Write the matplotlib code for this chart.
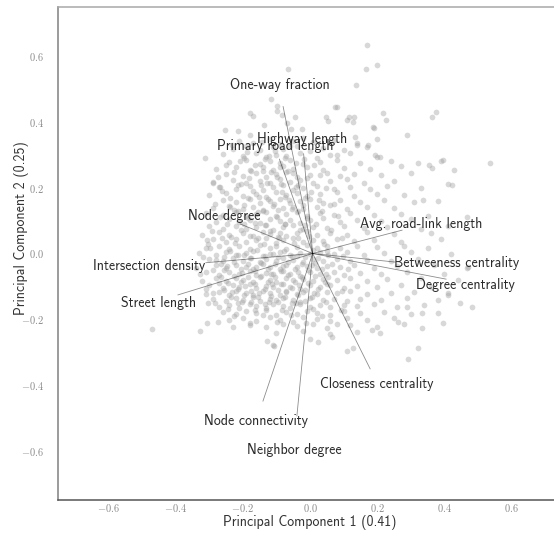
import matplotlib
matplotlib.use("Agg")
import matplotlib.pyplot as plt

plt.rcParams["mathtext.fontset"] = "cm"

# ---------------- data ----------------
feature_names = [
    "One-way fraction", "Highway length", "Primary road length", "Node degree",
    "Avg. road-link length", "Intersection density", "Street length",
    "Betweeness centrality", "Degree centrality", "Closeness centrality",
    "Node connectivity", "Neighbor degree",
]
loading_pc1 = [-0.080, -0.019, -0.091, -0.208, 0.274, -0.310, -0.393,
               0.253, 0.405, 0.179, -0.140, -0.039]
loading_pc2 = [0.447, 0.303, 0.287, 0.090, 0.071, -0.028, -0.126,
               -0.026, -0.078, -0.351, -0.449, -0.494]
label_pc1 = [-0.089, -0.024, -0.103, -0.254, 0.332, -0.480, -0.450,
             0.435, 0.464, 0.200, -0.160, -0.048]
label_pc2 = [0.513, 0.347, 0.327, 0.114, 0.090, -0.038, -0.150,
             -0.029, -0.096, -0.398, -0.509, -0.598]
origin_pc1 = 0.008
origin_pc2 = 0.0

tick_values = [-0.6, -0.4, -0.2, 0.0, 0.2, 0.4, 0.6]
tick_labels = [r"$-0.6$", r"$-0.4$", r"$-0.2$", r"$0.0$", r"$0.2$", r"$0.4$", r"$0.6$"]
xlabel_text = "Principal Component 1 (0.41)"
ylabel_text = "Principal Component 2 (0.25)"

scores = [
    # sparse outer points
    (0.17, 0.635), (0.168, 0.56), (0.198, 0.575), (0.136, 0.512), (-0.065, 0.56),
    (-0.117, 0.469), (-0.097, 0.45), (-0.099, 0.434), (-0.18, 0.428), (-0.17, 0.418),
    (0.075, 0.445), (0.048, 0.414), (0.053, 0.404), (0.111, 0.406), (0.132, 0.416),
    (0.129, 0.401), (0.19, 0.381), (0.198, 0.347), (-0.253, 0.376), (-0.213, 0.373),
    (-0.137, 0.391), (-0.083, 0.421), (-0.045, 0.416), (-0.069, 0.398), (-0.023, 0.378),
    (-0.057, 0.378), (-0.179, 0.36), (0.139, 0.33), (0.173, 0.33), (0.193, 0.30),
    (0.079, 0.30), (-0.313, 0.29), (0.536, 0.275), (0.39, 0.28), (0.354, 0.27),
    (0.43, 0.255), (0.41, 0.21), (0.466, 0.112), (-0.288, 0.214), (-0.268, 0.203),
    (-0.238, 0.142), (-0.307, 0.041), (-0.298, 0.016), (-0.471, -0.23), (-0.327, -0.236),
    (-0.307, -0.212), (-0.273, -0.207), (-0.228, -0.223), (-0.129, -0.266), (-0.109, -0.278),
    (-0.303, -0.152), (-0.288, -0.121), (0.466, -0.045), (0.446, -0.15), (0.481, -0.164),
    (0.412, -0.126), (0.397, -0.212), (0.332, -0.228), (0.322, -0.288), (0.291, -0.322),
    (0.129, -0.288), (0.111, -0.296), (0.065, -0.253), (0.025, -0.268), (0.0, -0.261),
    (-0.107, -0.281), (0.184, -0.233), (0.208, -0.241), (0.263, -0.207), (0.288, -0.162),
    (0.332, -0.18), (0.382, -0.182),
    (0.079, 0.446), (0.116, 0.415), (0.217, 0.427), (0.225, 0.406), (0.362, 0.416),
    (0.374, 0.431), (0.188, 0.386), (0.134, 0.355), (0.395, 0.284), (0.288, 0.36),
    (0.321, 0.275), (0.362, 0.26), (0.422, 0.208), (0.336, 0.163), (0.208, 0.294),
    # main cloud
    (-0.21, 0.343), (-0.17, 0.336), (-0.12, 0.347), (-0.09, 0.333), (-0.05, 0.341), (-0.02, 0.35), (0.01, 0.338), (0.07, 0.344), (0.14, 0.335),
    (-0.23, 0.318), (-0.19, 0.326), (-0.15, 0.314), (-0.11, 0.323), (-0.08, 0.317), (-0.04, 0.328), (0.0, 0.312), (0.04, 0.322), (0.1, 0.316), (0.17, 0.325),
    (-0.26, 0.302), (-0.2, 0.296), (-0.16, 0.305), (-0.13, 0.293), (-0.1, 0.301), (-0.07, 0.297), (-0.03, 0.306), (0.02, 0.292), (0.06, 0.3), (0.12, 0.307), (0.2, 0.294),
    (-0.24, 0.278), (-0.19, 0.284), (-0.15, 0.273), (-0.12, 0.281), (-0.09, 0.276), (-0.06, 0.286), (-0.02, 0.272), (0.03, 0.279), (0.08, 0.285), (0.15, 0.274), (0.24, 0.281),
    (-0.28, 0.257), (-0.22, 0.264), (-0.18, 0.255), (-0.14, 0.262), (-0.11, 0.253), (-0.08, 0.266), (-0.05, 0.258), (-0.01, 0.263), (0.04, 0.254), (0.1, 0.261), (0.18, 0.256), (0.27, 0.265),
    (-0.25, 0.243), (-0.2, 0.236), (-0.16, 0.245), (-0.13, 0.234), (-0.1, 0.241), (-0.07, 0.247), (-0.04, 0.233), (0.0, 0.24), (0.05, 0.246), (0.09, 0.235), (0.13, 0.242), (0.21, 0.238), (0.3, 0.244),
    (-0.29, 0.217), (-0.23, 0.224), (-0.19, 0.215), (-0.15, 0.222), (-0.12, 0.213), (-0.09, 0.226), (-0.06, 0.218), (-0.03, 0.223), (0.01, 0.214), (0.06, 0.221), (0.11, 0.227), (0.16, 0.216), (0.25, 0.222),
    (-0.27, 0.203), (-0.22, 0.196), (-0.18, 0.205), (-0.14, 0.194), (-0.11, 0.201), (-0.08, 0.207), (-0.05, 0.193), (-0.02, 0.2), (0.02, 0.206), (0.07, 0.195), (0.12, 0.202), (0.18, 0.197), (0.23, 0.204), (0.33, 0.198),
    (-0.3, 0.177), (-0.25, 0.184), (-0.2, 0.175), (-0.16, 0.182), (-0.13, 0.173), (-0.1, 0.186), (-0.07, 0.178), (-0.04, 0.183), (-0.01, 0.174), (0.03, 0.181), (0.08, 0.187), (0.13, 0.176), (0.2, 0.182), (0.28, 0.179),
    (-0.26, 0.163), (-0.22, 0.156), (-0.18, 0.165), (-0.15, 0.154), (-0.12, 0.161), (-0.09, 0.167), (-0.06, 0.153), (-0.03, 0.16), (0.0, 0.166), (0.04, 0.155), (0.09, 0.162), (0.15, 0.157), (0.22, 0.164), (0.31, 0.158), (0.38, 0.161),
    (-0.29, 0.137), (-0.24, 0.144), (-0.2, 0.135), (-0.17, 0.142), (-0.14, 0.133), (-0.11, 0.146), (-0.08, 0.138), (-0.05, 0.143), (-0.02, 0.134), (0.02, 0.141), (0.06, 0.147), (0.11, 0.136), (0.17, 0.142), (0.25, 0.139),
    (-0.31, 0.123), (-0.26, 0.116), (-0.22, 0.125), (-0.19, 0.114), (-0.16, 0.121), (-0.13, 0.127), (-0.1, 0.113), (-0.07, 0.12), (-0.04, 0.126), (-0.01, 0.115), (0.03, 0.122), (0.07, 0.117), (0.12, 0.124), (0.19, 0.118), (0.27, 0.121), (0.35, 0.115),
    (-0.28, 0.097), (-0.24, 0.104), (-0.21, 0.095), (-0.18, 0.102), (-0.15, 0.093), (-0.12, 0.106), (-0.09, 0.098), (-0.06, 0.103), (-0.03, 0.094), (0.0, 0.101), (0.04, 0.107), (0.09, 0.096), (0.14, 0.102), (0.21, 0.099), (0.3, 0.104),
    (-0.3, 0.083), (-0.26, 0.076), (-0.22, 0.085), (-0.19, 0.074), (-0.16, 0.081), (-0.13, 0.087), (-0.11, 0.073), (-0.08, 0.08), (-0.05, 0.086), (-0.02, 0.075), (0.01, 0.082), (0.05, 0.077), (0.1, 0.084), (0.16, 0.078), (0.23, 0.081), (0.33, 0.075), (0.41, 0.083),
    (-0.32, 0.057), (-0.27, 0.064), (-0.24, 0.055), (-0.2, 0.062), (-0.17, 0.053), (-0.14, 0.066), (-0.12, 0.058), (-0.09, 0.063), (-0.07, 0.054), (-0.04, 0.061), (-0.01, 0.067), (0.02, 0.056), (0.06, 0.062), (0.11, 0.057), (0.17, 0.064), (0.25, 0.059), (0.36, 0.062),
    (-0.29, 0.043), (-0.25, 0.036), (-0.22, 0.045), (-0.19, 0.034), (-0.16, 0.041), (-0.13, 0.047), (-0.1, 0.033), (-0.08, 0.04), (-0.05, 0.046), (-0.02, 0.035), (0.01, 0.042), (0.04, 0.037), (0.08, 0.044), (0.13, 0.038), (0.19, 0.041), (0.27, 0.035), (0.39, 0.043),
    (-0.31, 0.017), (-0.27, 0.024), (-0.24, 0.015), (-0.21, 0.022), (-0.18, 0.013), (-0.15, 0.026), (-0.12, 0.018), (-0.1, 0.023), (-0.07, 0.014), (-0.04, 0.021), (-0.01, 0.027), (0.02, 0.016), (0.05, 0.022), (0.09, 0.017), (0.14, 0.024), (0.2, 0.019), (0.28, 0.022), (0.35, 0.016),
    (-0.33, 0.003), (-0.28, -0.004), (-0.25, 0.005), (-0.22, -0.006), (-0.19, 0.001), (-0.17, 0.007), (-0.14, -0.007), (-0.11, 0.0), (-0.09, 0.006), (-0.06, -0.005), (-0.03, 0.002), (0.0, -0.003), (0.03, 0.004), (0.07, -0.002), (0.11, 0.005), (0.16, -0.004), (0.22, 0.001), (0.3, 0.006), (0.42, -0.002),
    (-0.3, -0.017), (-0.26, -0.024), (-0.23, -0.015), (-0.2, -0.022), (-0.18, -0.013), (-0.15, -0.026), (-0.13, -0.018), (-0.1, -0.023), (-0.08, -0.014), (-0.05, -0.021), (-0.02, -0.027), (0.01, -0.016), (0.04, -0.022), (0.08, -0.017), (0.12, -0.024), (0.17, -0.019), (0.24, -0.022), (0.32, -0.016),
    (-0.34, -0.043), (-0.28, -0.036), (-0.25, -0.045), (-0.22, -0.034), (-0.19, -0.041), (-0.17, -0.047), (-0.14, -0.033), (-0.12, -0.04), (-0.09, -0.046), (-0.07, -0.035), (-0.04, -0.042), (-0.01, -0.037), (0.02, -0.044), (0.05, -0.038), (0.09, -0.041), (0.13, -0.035), (0.19, -0.043), (0.26, -0.039), (0.37, -0.036), (0.47, -0.042),
    (-0.31, -0.057), (-0.27, -0.064), (-0.24, -0.055), (-0.21, -0.062), (-0.18, -0.053), (-0.16, -0.066), (-0.13, -0.058), (-0.11, -0.063), (-0.08, -0.054), (-0.06, -0.061), (-0.03, -0.067), (0.0, -0.056), (0.03, -0.062), (0.07, -0.057), (0.1, -0.064), (0.15, -0.059), (0.21, -0.062), (0.29, -0.056), (0.4, -0.063),
    (-0.32, -0.083), (-0.28, -0.076), (-0.25, -0.085), (-0.22, -0.074), (-0.2, -0.081), (-0.17, -0.087), (-0.15, -0.073), (-0.12, -0.08), (-0.1, -0.086), (-0.07, -0.075), (-0.05, -0.082), (-0.02, -0.077), (0.01, -0.084), (0.04, -0.078), (0.08, -0.081), (0.12, -0.075), (0.17, -0.083), (0.23, -0.079), (0.33, -0.076), (0.44, -0.082),
    (-0.3, -0.097), (-0.26, -0.104), (-0.23, -0.095), (-0.21, -0.102), (-0.18, -0.093), (-0.16, -0.106), (-0.13, -0.098), (-0.11, -0.103), (-0.08, -0.094), (-0.06, -0.101), (-0.03, -0.107), (0.0, -0.096), (0.03, -0.102), (0.06, -0.097), (0.1, -0.104), (0.14, -0.099), (0.2, -0.102), (0.27, -0.096), (0.36, -0.103),
    (-0.31, -0.123), (-0.27, -0.116), (-0.24, -0.125), (-0.22, -0.114), (-0.19, -0.121), (-0.17, -0.127), (-0.14, -0.113), (-0.12, -0.12), (-0.09, -0.126), (-0.07, -0.115), (-0.04, -0.122), (-0.02, -0.117), (0.02, -0.124), (0.05, -0.118), (0.08, -0.121), (0.12, -0.115), (0.17, -0.123), (0.24, -0.119), (0.31, -0.116), (0.41, -0.121),
    (-0.29, -0.137), (-0.25, -0.144), (-0.22, -0.135), (-0.2, -0.142), (-0.17, -0.133), (-0.15, -0.146), (-0.12, -0.138), (-0.1, -0.143), (-0.08, -0.134), (-0.05, -0.141), (-0.03, -0.147), (0.0, -0.136), (0.04, -0.142), (0.07, -0.137), (0.11, -0.144), (0.15, -0.139), (0.21, -0.142), (0.29, -0.136), (0.38, -0.143),
    (-0.27, -0.163), (-0.24, -0.156), (-0.21, -0.165), (-0.18, -0.154), (-0.16, -0.161), (-0.13, -0.167), (-0.11, -0.153), (-0.08, -0.16), (-0.06, -0.166), (-0.03, -0.155), (0.0, -0.162), (0.03, -0.157), (0.06, -0.164), (0.1, -0.158), (0.14, -0.161), (0.19, -0.155), (0.26, -0.163), (0.34, -0.157),
    (-0.26, -0.177), (-0.22, -0.184), (-0.19, -0.175), (-0.16, -0.182), (-0.13, -0.173), (-0.1, -0.186), (-0.07, -0.178), (-0.04, -0.183), (-0.01, -0.174), (0.02, -0.181), (0.06, -0.187), (0.1, -0.176), (0.15, -0.182), (0.22, -0.179), (0.3, -0.184),
    (-0.24, -0.203), (-0.2, -0.196), (-0.16, -0.205), (-0.12, -0.194), (-0.09, -0.201), (-0.05, -0.207), (-0.02, -0.193), (0.02, -0.2), (0.06, -0.206), (0.11, -0.195), (0.17, -0.202), (0.25, -0.197),
    (-0.18, -0.217), (-0.13, -0.224), (-0.08, -0.215), (-0.04, -0.222), (0.01, -0.213), (0.05, -0.226), (0.12, -0.218), (0.2, -0.223), (0.28, -0.216),
    (-0.1, -0.243), (-0.02, -0.236), (0.06, -0.245), (0.14, -0.238),
    # denser core
    (-0.255, -0.011), (-0.215, -0.006), (-0.175, -0.013), (-0.135, -0.008), (-0.095, -0.012), (-0.055, -0.007), (-0.015, -0.01), (0.025, -0.013), (0.055, -0.006),
    (-0.265, -0.031), (-0.225, -0.027), (-0.185, -0.033), (-0.145, -0.028), (-0.105, -0.032), (-0.065, -0.026), (-0.025, -0.031), (0.015, -0.028), (0.065, -0.033),
    (-0.255, -0.051), (-0.205, -0.047), (-0.165, -0.053), (-0.125, -0.048), (-0.085, -0.052), (-0.045, -0.046), (-0.005, -0.051), (0.035, -0.048),
    (-0.265, -0.071), (-0.225, -0.067), (-0.185, -0.073), (-0.145, -0.068), (-0.105, -0.072), (-0.065, -0.066), (-0.025, -0.071), (0.015, -0.068), (0.055, -0.073),
    (-0.245, -0.091), (-0.205, -0.087), (-0.165, -0.093), (-0.125, -0.088), (-0.085, -0.092), (-0.045, -0.086), (-0.005, -0.091), (0.045, -0.088),
    (-0.255, -0.111), (-0.215, -0.107), (-0.175, -0.113), (-0.135, -0.108), (-0.095, -0.112), (-0.055, -0.106), (-0.015, -0.111), (0.025, -0.108),
    (-0.235, -0.131), (-0.195, -0.127), (-0.155, -0.133), (-0.115, -0.128), (-0.075, -0.132), (-0.035, -0.126), (0.005, -0.131),
    (-0.215, -0.151), (-0.175, -0.147), (-0.135, -0.153), (-0.095, -0.148), (-0.055, -0.152), (-0.015, -0.146),
    (-0.195, 0.29), (-0.135, 0.287), (-0.075, 0.291), (-0.175, 0.25), (-0.115, 0.247), (-0.065, 0.252),
    (-0.205, 0.21), (-0.145, 0.207), (-0.085, 0.212), (-0.035, 0.209), (-0.185, 0.17), (-0.125, 0.167),
    (-0.075, 0.171), (-0.015, 0.168), (-0.215, 0.13), (-0.155, 0.127), (-0.095, 0.131), (-0.035, 0.128),
    (-0.195, 0.09), (-0.135, 0.087), (-0.075, 0.091), (-0.015, 0.088), (-0.235, 0.05), (-0.155, 0.047),
    (-0.095, 0.051), (-0.035, 0.048),
    # further irregular fill of the cloud
    (-0.232, 0.331), (-0.188, 0.309), (-0.142, 0.338), (-0.103, 0.311), (-0.061, 0.327), (-0.018, 0.289),
    (-0.251, 0.269), (-0.207, 0.281), (-0.163, 0.268), (-0.122, 0.298), (-0.088, 0.262), (-0.041, 0.276), (0.012, 0.268),
    (-0.274, 0.232), (-0.226, 0.247), (-0.183, 0.229), (-0.139, 0.251), (-0.097, 0.232), (-0.052, 0.244), (-0.008, 0.229), (0.031, 0.238),
    (-0.262, 0.189), (-0.213, 0.208), (-0.171, 0.191), (-0.128, 0.213), (-0.084, 0.188), (-0.043, 0.202), (0.004, 0.186), (0.048, 0.199),
    (-0.283, 0.152), (-0.238, 0.169), (-0.196, 0.148), (-0.152, 0.172), (-0.108, 0.151), (-0.062, 0.164), (-0.021, 0.149), (0.027, 0.163), (0.071, 0.152),
    (-0.268, 0.111), (-0.227, 0.133), (-0.184, 0.109), (-0.141, 0.129), (-0.098, 0.112), (-0.053, 0.134), (-0.009, 0.109), (0.036, 0.128), (0.082, 0.113),
    (-0.291, 0.068), (-0.246, 0.089), (-0.204, 0.071), (-0.163, 0.093), (-0.118, 0.069), (-0.074, 0.089), (-0.029, 0.072), (0.019, 0.091), (0.063, 0.071),
    (-0.305, 0.029), (-0.262, 0.048), (-0.223, 0.031), (-0.178, 0.052), (-0.136, 0.029), (-0.092, 0.047), (-0.047, 0.031), (-0.003, 0.052), (0.042, 0.028), (0.094, 0.046),
    (-0.318, -0.012), (-0.279, -0.019), (-0.238, 0.008), (-0.196, -0.004), (-0.157, 0.011), (-0.118, -0.002), (-0.076, 0.009), (-0.038, -0.008), (0.008, 0.011), (0.051, 0.007), (0.097, -0.009),
    (-0.327, -0.062), (-0.289, -0.049), (-0.246, -0.038), (-0.203, -0.058), (-0.161, -0.041), (-0.117, -0.061), (-0.079, -0.039), (-0.036, -0.057), (0.006, -0.036), (0.048, -0.061), (0.113, -0.048),
    (-0.309, -0.109), (-0.271, -0.091), (-0.232, -0.118), (-0.193, -0.099), (-0.152, -0.121), (-0.113, -0.094), (-0.072, -0.117), (-0.033, -0.096), (0.011, -0.119), (0.052, -0.093), (0.094, -0.113),
    (-0.283, -0.151), (-0.243, -0.169), (-0.203, -0.149), (-0.163, -0.171), (-0.122, -0.148), (-0.082, -0.173), (-0.041, -0.151), (0.008, -0.169), (0.047, -0.147), (0.091, -0.171),
    (-0.227, -0.189), (-0.178, -0.211), (-0.139, -0.188), (-0.097, -0.209), (-0.056, -0.187), (-0.012, -0.212), (0.036, -0.191), (0.081, -0.214),
]
score_pc1 = [p[0] for p in scores]
score_pc2 = [p[1] for p in scores]

# ---------------- figure ----------------
W, H = 554, 533
fig = plt.figure(figsize=(W / 100, H / 100), dpi=100)
ax = fig.add_axes([58 / W, 33 / H, 504 / W, 493 / H])
ax.set_xlim(-0.75, 0.75)
ax.set_ylim(-0.75, 0.75)

ax.scatter(score_pc1, score_pc2, s=17, c="#9a9a9a", alpha=0.38,
           linewidths=0, zorder=1)

for name, ex, ey, lx, ly in zip(feature_names, loading_pc1, loading_pc2,
                                label_pc1, label_pc2):
    ax.plot([origin_pc1, ex], [origin_pc2, ey], color="black", alpha=0.45,
            lw=0.6, zorder=2)
    ax.text(lx, ly, name, ha="center", va="center", fontsize=10,
            family="cmss10", color="#2a2a2a", zorder=3)

ax.set_xticks(tick_values)
ax.set_xticklabels(tick_labels)
ax.set_yticks(tick_values)
ax.set_yticklabels(tick_labels)
ax.tick_params(axis="both", length=0, labelsize=7.5, labelcolor="#8a8a8a")
ax.tick_params(axis="x", pad=1.5)
ax.tick_params(axis="y", pad=10)

ax.set_xlabel(xlabel_text, family="cmss10", fontsize=10, color="#333333")
ax.set_ylabel(ylabel_text, family="cmss10", fontsize=10, color="#333333")
ax.xaxis.set_label_coords(0.5, -0.03)
ax.yaxis.set_label_coords(-0.058, 0.552)

ax.spines["right"].set_visible(False)
ax.spines["top"].set_color("#a8a8a8")
ax.spines["left"].set_color("#808080")
ax.spines["bottom"].set_color("#555555")
for s in ("top", "left", "bottom"):
    ax.spines[s].set_linewidth(1.1)

fig.savefig("out.png", dpi=100, facecolor="white")
